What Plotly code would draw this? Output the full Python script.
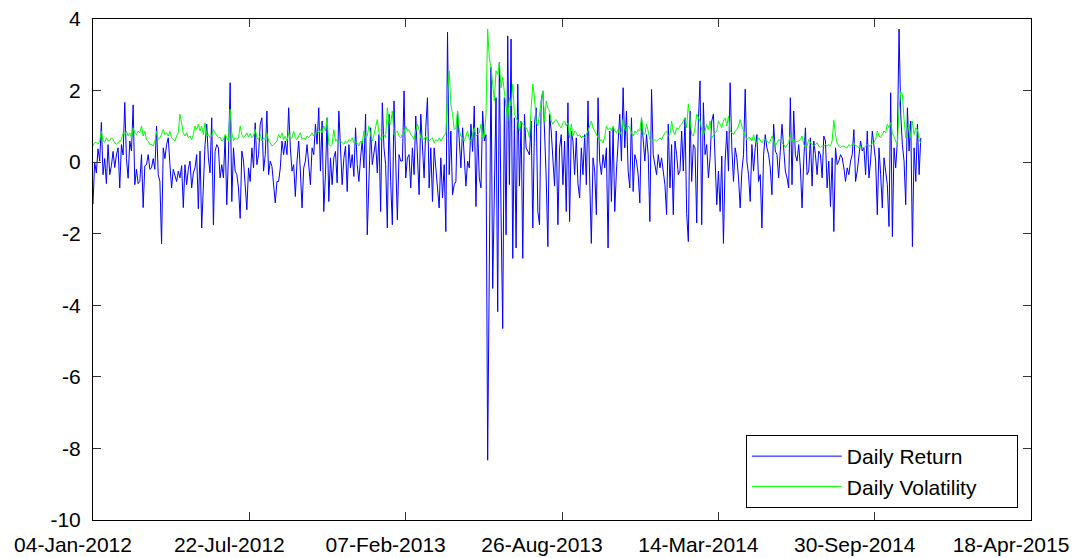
import pandas as pd
import plotly.graph_objects as go

# ---- Daily return (%), in chronological segments ----
ret_seg1 = [-1.17, 0.00, -0.30, 0.37, 0.03, 1.11, -0.35, 0.10, -0.60, 0.49,
            -0.35, -0.10, 0.30, -0.15, 0.20, 0.40, -0.72, 0.49, 0.20, 1.67,
            0.10, -0.45, 0.59, 0.31, 1.60, -0.63, -0.20, -0.60, -0.54, 0.21,
            -1.27, -0.10, -0.07, 0.21, -0.20, -0.16, 0.10, -0.20, 1.01, -0.35,
            -0.54, -2.28, 0.40, 0.10, 0.49, 0.68, -0.07, -0.72, -0.20, -0.35,
            -0.54, -0.25, -0.44, -0.10, -1.27, -0.07, -0.63, -0.20, 0.03, -0.72,
            -0.30, -0.16, 0.21, -1.30, 0.31, -1.84, -0.35, 0.49, 1.06]
ret_seg2 = [0.12, -0.30, 1.24, -1.75, 0.30, 0.49, 0.40, -0.44, -0.07, -0.44,
            0.73, -1.19, 0.20, 2.22, -1.10, 0.40, -0.25, -0.35, -0.72, -1.57,
            0.31, 0.03, -0.82, -1.33, -0.16, -0.54, 0.40, -0.16, 1.10, -0.07,
            0.21, 1.06, 1.24, -0.25, 0.21, 1.43, -0.35, 0.03, -0.12, -0.72,
            -1.14, -0.54, -0.54, -0.16, 0.59, 0.21, 0.59, 0.21, 1.52, 0.40,
            -0.25, -0.07, -0.96, 0.03, 0.59, -0.25, -1.28, -0.16, 0.03, 0.49,
            -0.16, -0.63, 0.40, 0.21, 1.06, 0.50, 1.52, -0.25, 1.15, -1.38,
            -0.35, 1.24]
ret_seg3 = [-1.10, 0.12, -0.63, 0.12, 0.30, -0.58, 1.43, 0.40, -0.63, 0.10,
            0.45, -0.82, 0.49, -0.16, 0.21, -0.40, 0.96, -0.07, -0.54, 0.12,
            0.59, -0.16, 1.34, -2.03, -0.72, 0.96, -0.07, 0.21, 0.59, -0.30,
            0.77, -1.38, 1.66, 0.40, -0.07, -1.84, 1.34, -0.54, -1.75, 1.71,
            0.03, -1.61, 0.21, 0.03, 0.03, 1.99, -0.44, 0.12, 0.21, -0.72,
            0.40, -0.35, 1.29, -0.07, -0.91, 1.34, 0.40, -0.44, 0.96, 1.80,
            -0.72, 0.40, -1.10, 0.40, -0.16, -0.72, -1.28, 0.12, -1.00, -0.07,
            -1.94, 3.63]
ret_seg4 = [-0.35, 0.87, -0.91, -0.63, -0.54, 1.43, 0.50, -0.16, 0.96, -0.07,
            -0.67, 0.03, -0.16, 1.06, 0.30, 1.57, -1.24, 0.96, -0.44, -0.72,
            1.43, 0.59, 0.77, -8.33, -1.61, 2.65, -3.53, -0.50, 1.80, -4.18,
            2.79, -1.38, -4.65, 1.80, -2.03, 3.53, -0.63, 3.44, -2.69, 1.24,
            -2.40, 2.18, -0.67, 1.15, -2.69, 1.34, 0.40, 0.31, 0.20, 1.15,
            -1.84, 1.06, 1.52, -1.38, -1.75, 1.71, 1.99, 0.87, -0.44, -2.36,
            1.34, 0.87, 0.21, -0.67, 0.87, -1.75, 0.40, 0.77, -0.63, 0.59,
            -1.38, 1.66]
ret_seg5 = [-1.66, 0.87, 0.59, -0.35, 0.68, -0.60, -1.00, 0.40, -0.35, 0.77,
            -0.63, 1.71, -0.44, -2.27, 0.12, -0.25, -1.47, 1.80, 0.03, -0.35,
            0.21, -0.16, 0.40, -2.40, 0.87, -1.10, 0.96, -1.38, -0.25, 0.40,
            1.34, 0.03, 2.08, 0.40, 1.43, -0.25, -0.72, 1.24, -0.82, 0.21,
            0.03, -0.35, -1.14, 1.24, 0.59, 0.03, 0.77, 0.21, -1.66, 2.03,
            0.21, -0.07, -0.35, 0.21, -0.16, 0.12, -0.25, -0.63, -1.47, 1.06,
            -0.72, 0.49, -1.47, 0.59, 0.21, -0.35, -0.25, 0.87, -0.25, 1.24,
            -1.43, -2.22]
ret_seg6 = [1.43, -0.54, 0.49, 0.40, -1.70, 1.15, 2.27, -1.75, 1.66, 0.21,
            0.49, -0.44, 0.12, 1.15, 1.34, -0.16, -1.19, -0.25, -1.38, 0.17,
            -2.27, 0.03, 0.87, -0.25, 2.22, 0.40, -0.54, 0.40, 0.12, -0.44,
            -1.28, -0.25, 0.21, 2.04, 0.03, -0.35, -1.10, 0.49, -0.25, 0.40,
            0.77, -0.54, -0.35, -1.84, 0.21, 0.77, 0.40, 0.21, -0.16, -0.91,
            1.06, 0.31, 0.21, -0.44, 0.49, 1.06, 0.40, -0.25, -0.44, -0.72,
            1.80, -0.63, 1.43, 0.21, 0.03, 0.49, -0.16, -1.28, 0.03, 0.96,
            -0.35, -0.25]
ret_seg7 = [0.68, -0.67, 0.59, 0.21, -0.35, 0.31, 0.21, -0.44, 0.73, 0.59,
            -0.72, 0.03, -1.24, 0.12, -1.94, 0.40, -0.07, 0.03, 0.21, 0.12,
            -0.16, -0.54, -0.16, -0.35, 0.03, 0.21, 0.91, -0.54, -0.25, 0.21,
            0.59, 0.31, 0.40, -0.35, 0.87, -0.44, 0.03, 0.87, 0.40, 0.03,
            -1.47, 0.40, -0.35, -1.28, 0.12, -0.35, -0.63, -1.80, 1.94, -2.08,
            0.40, -0.16, 0.59, 3.72, 1.34, 0.49, 0.03, -1.19, 1.52, 0.31,
            1.15, -2.36, 0.40, -0.54, 1.06, -0.35, 0.68]

# ---- Daily volatility, same dates ----
vol_seg1 = [0.45, 0.54, 0.55, 0.50, 0.59, 0.87, 0.60, 0.55, 0.68, 0.59,
            0.60, 0.68, 0.63, 0.54, 0.50, 0.54, 0.59, 0.63, 0.82, 0.77,
            0.87, 0.73, 0.82, 0.68, 0.96, 0.82, 0.77, 0.87, 0.82, 1.01,
            0.73, 0.87, 0.63, 0.59, 0.49, 0.50, 0.45, 0.59, 0.87, 0.63,
            0.68, 0.77, 0.91, 0.77, 0.82, 0.73, 0.87, 0.68, 0.63, 0.59,
            0.73, 0.82, 1.34, 1.06, 0.82, 0.73, 0.82, 0.68, 0.73, 0.63,
            0.77, 1.01, 0.91, 1.06, 0.87, 1.01, 0.77, 1.10, 0.73]
vol_seg2 = [0.77, 0.68, 0.73, 0.91, 0.82, 0.73, 0.68, 0.70, 0.59, 0.63,
            0.77, 0.68, 0.59, 1.48, 0.82, 0.60, 0.68, 0.63, 0.68, 1.01,
            0.77, 0.68, 0.73, 0.82, 0.70, 0.80, 0.68, 0.73, 0.91, 0.68,
            0.63, 0.77, 0.59, 0.68, 0.63, 0.82, 0.59, 0.54, 0.45, 0.49,
            0.54, 0.59, 0.77, 0.68, 0.82, 0.63, 0.73, 0.59, 0.82, 0.63,
            0.68, 0.87, 0.68, 0.63, 0.73, 0.82, 0.63, 0.68, 0.63, 0.73,
            0.68, 0.77, 0.82, 0.73, 0.77, 0.87, 0.82, 0.91, 0.82, 1.01,
            0.87, 1.24]
vol_seg3 = [0.49, 0.45, 0.50, 0.91, 0.59, 0.63, 0.54, 0.59, 0.54, 0.50,
            0.59, 0.54, 0.63, 0.59, 0.68, 0.54, 0.59, 0.50, 0.45, 0.59,
            0.54, 0.87, 0.68, 0.73, 1.01, 0.77, 0.59, 0.77, 0.96, 1.19,
            0.82, 0.63, 0.73, 0.77, 0.68, 1.52, 1.10, 1.06, 1.43, 0.77,
            0.82, 0.87, 0.73, 0.68, 0.77, 0.82, 1.01, 0.87, 0.91, 0.77,
            0.73, 0.63, 0.87, 1.06, 0.91, 0.68, 0.68, 0.63, 0.73, 0.59,
            0.59, 0.63, 0.68, 0.54, 0.63, 0.59, 0.68, 0.59, 0.68, 0.73,
            0.82, 1.90]
vol_seg4 = [2.55, 1.60, 1.34, 0.91, 0.96, 1.43, 0.91, 0.73, 0.68, 0.59,
            0.77, 0.87, 0.63, 0.59, 0.77, 0.96, 0.73, 0.77, 0.82, 1.06,
            0.68, 0.73, 1.34, 3.72, 2.90, 2.65, 2.18, 1.71, 2.55, 2.45,
            2.79, 2.08, 2.37, 1.99, 1.52, 1.15, 1.80, 1.57, 2.18, 1.34,
            1.24, 1.15, 0.87, 1.15, 1.06, 1.01, 0.96, 0.87, 0.68, 1.50,
            2.18, 1.80, 1.15, 1.01, 1.34, 1.80, 1.99, 1.15, 1.71, 1.50,
            1.43, 1.15, 1.06, 1.15, 1.19, 1.10, 1.00, 0.96, 1.10, 1.15,
            1.01, 1.10]
vol_seg5 = [0.68, 1.06, 0.73, 0.87, 0.82, 0.73, 0.77, 0.68, 0.73, 0.68,
            0.77, 0.87, 1.01, 1.15, 0.96, 0.87, 0.77, 0.68, 0.59, 0.63,
            0.54, 0.70, 1.01, 0.91, 0.96, 0.87, 1.01, 0.87, 0.82, 0.91,
            0.77, 0.87, 1.19, 0.91, 0.87, 1.01, 0.96, 0.82, 0.73, 0.87,
            0.82, 0.91, 0.87, 1.24, 0.82, 0.77, 1.06, 0.87, 0.63, 0.59,
            0.59, 0.63, 0.59, 0.63, 0.68, 0.63, 0.73, 0.82, 0.87, 0.73,
            0.77, 1.15, 0.87, 0.77, 0.96, 0.91, 1.01, 1.06, 1.15, 1.24,
            0.96, 1.63]
vol_seg6 = [1.20, 0.77, 0.73, 0.96, 1.34, 1.24, 1.15, 0.91, 0.77, 0.87,
            1.06, 0.91, 1.15, 0.68, 0.77, 0.82, 0.87, 1.15, 1.06, 0.96,
            1.15, 1.24, 1.01, 1.29, 0.87, 0.82, 0.77, 0.87, 0.91, 1.01,
            1.19, 1.01, 0.87, 0.73, 0.63, 0.68, 0.68, 0.59, 0.77, 0.59,
            0.54, 0.68, 0.59, 0.54, 0.63, 0.63, 0.59, 0.54, 0.59, 0.73,
            0.63, 0.45, 0.54, 0.63, 0.59, 0.54, 0.50, 0.40, 0.49, 0.54,
            0.77, 0.59, 0.63, 0.54, 0.59, 0.59, 0.63, 0.73, 0.50, 0.40,
            0.45, 0.63]
vol_seg7 = [0.54, 0.50, 0.45, 0.49, 0.54, 0.45, 0.40, 0.45, 0.45, 0.50,
            0.45, 0.49, 0.45, 0.59, 1.17, 0.77, 0.54, 0.45, 0.40, 0.45,
            0.45, 0.40, 0.40, 0.49, 0.45, 0.49, 0.54, 0.45, 0.45, 0.40,
            0.45, 0.40, 0.40, 0.45, 0.49, 0.45, 0.45, 0.54, 0.54, 0.63,
            0.87, 0.73, 0.68, 0.77, 0.87, 0.82, 1.06, 0.96, 1.10, 0.82,
            0.68, 0.59, 0.49, 1.50, 1.97, 1.90, 1.20, 0.68, 0.82, 1.06,
            0.68, 1.15, 0.77, 0.96, 0.91, 0.63, 0.54]

first_date = "2012-01-04"
last_date = "2014-11-28"

tick_dates = ["2012-01-04", "2012-07-22", "2013-02-07", "2013-08-26",
              "2014-03-14", "2014-09-30", "2015-04-18"]
tick_labels = ["04-Jan-2012", "22-Jul-2012", "07-Feb-2013", "26-Aug-2013",
               "14-Mar-2014", "30-Sep-2014", "18-Apr-2015"]
y_ticks = [-10, -8, -6, -4, -2, 0, 2, 4]
y_labels = ["-10", "-8", "-6", "-4", "-2", "0", "2", "4"]

ret = ret_seg1 + ret_seg2 + ret_seg3 + ret_seg4 + ret_seg5 + ret_seg6 + ret_seg7
vol = vol_seg1 + vol_seg2 + vol_seg3 + vol_seg4 + vol_seg5 + vol_seg6 + vol_seg7
dates = pd.date_range(first_date, last_date, periods=len(ret))

NBSP = "\u00a0"
fig = go.Figure()
fig.add_trace(go.Scatter(x=dates, y=ret, mode="lines", name="Daily Return",
                         line=dict(color="#0000FF", width=1)))
fig.add_trace(go.Scatter(x=dates, y=vol, mode="lines",
                         name="Daily Volatility" + NBSP * 6,
                         line=dict(color="#00FF00", width=1)))

fig.update_layout(
    width=1078, height=558,
    margin=dict(l=93, r=47, t=19, b=38, autoexpand=False),
    paper_bgcolor="white", plot_bgcolor="white",
    font=dict(family="Liberation Sans, Arial, sans-serif", size=21, color="black"),
    showlegend=True,
    legend=dict(x=0.986, y=0.024, xanchor="right", yanchor="bottom",
                bordercolor="black", borderwidth=1, bgcolor="white",
                itemwidth=90, font=dict(size=21), tracegroupgap=0),
)
fig.update_xaxes(range=[tick_dates[0], tick_dates[-1]], tickvals=tick_dates,
                 ticktext=tick_labels, ticks="inside", ticklen=8, tickcolor="#333333",
                 mirror="ticks", showline=True, linecolor="black", linewidth=1,
                 showgrid=False, zeroline=False, ticklabelshift=-20,
                 ticklabelstandoff=6, automargin=False)
fig.update_yaxes(range=[-10, 4], tickvals=y_ticks, ticktext=y_labels,
                 ticks="inside", ticklen=8,
                 tickcolor="#333333", mirror="ticks", showline=True,
                 linecolor="black", linewidth=1, showgrid=False, zeroline=False,
                 ticklabelstandoff=7, automargin=False)

fig.write_html("out.html", config={"displayModeBar": False},
               post_script="document.body.style.margin='0';document.body.style.padding='0';")
